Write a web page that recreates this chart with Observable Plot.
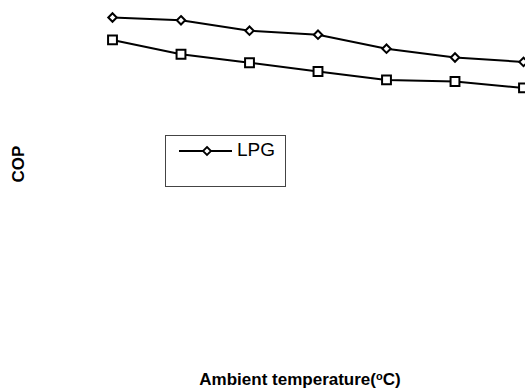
<!DOCTYPE html>
<html>
<head>
<meta charset="utf-8">
<script src="https://cdn.jsdelivr.net/npm/d3@7"></script>
<script src="https://cdn.jsdelivr.net/npm/@observablehq/plot@0.6"></script>
<style>
  html, body { margin: 0; padding: 0; background: #fff; }
  #wrap { position: relative; width: 525px; height: 392px; overflow: hidden; font-family: "Liberation Sans", Arial, sans-serif; }
  #chart svg { display: block; }
  .ylab { position: absolute; left: 19px; top: 164px; transform: translate(-50%, -50%) rotate(-90deg); font-weight: bold; font-size: 17px; white-space: nowrap; }
  .xlab { position: absolute; left: 300px; top: 380px; transform: translate(-50%, -50%); font-weight: bold; font-size: 17px; white-space: nowrap; }
  .xlab sup { font-size: 11px; vertical-align: 5px; }
  .legend { position: absolute; left: 165px; top: 135px; width: 121px; height: 52px; border: 1.5px solid #444; box-sizing: border-box; }
  .legend svg { position: absolute; left: 0; top: 0; }
  .legend span { position: absolute; left: 71px; top: 3px; font-size: 19px; }
</style>
</head>
<body>
<div id="wrap">
  <div id="chart"></div>
  <div class="ylab">COP</div>
  <div class="xlab">Ambient temperature(<sup>o</sup>C)</div>
  <div class="legend">
    <svg width="121" height="52">
      <line x1="13" y1="15" x2="66" y2="15" stroke="#000" stroke-width="2"></line>
      <path d="M41,11 L45,15 L41,19 L37,15 Z" fill="#fff" stroke="#000" stroke-width="1.8"></path>
    </svg>
    <span>LPG</span>
  </div>
</div>
<script>
const temps = [20, 25, 30, 35, 40, 45, 50];
const copLPG = [5.00, 4.93, 4.67, 4.57, 4.22, 4.00, 3.89];
const copOther = [4.44, 4.08, 3.87, 3.65, 3.44, 3.40, 3.24];

const lpg = temps.map((t, i) => ({t, cop: copLPG[i]}));
const other = temps.map((t, i) => ({t, cop: copOther[i]}));

const chart = Plot.plot({
  width: 525,
  height: 392,
  margin: 0,
  x: {domain: [20, 50], range: [112, 523], axis: null},
  y: {domain: [5, 0], range: [17, 217], axis: null},
  marks: [
    Plot.line(lpg, {x: "t", y: "cop", stroke: "#000", strokeWidth: 2}),
    Plot.line(other, {x: "t", y: "cop", stroke: "#000", strokeWidth: 2}),
    Plot.dot(lpg, {x: "t", y: "cop", symbol: "diamond2", r: 3.8, fill: "#fff", stroke: "#000", strokeWidth: 2}),
    Plot.dot(other, {x: "t", y: "cop", symbol: "square", r: 5, fill: "#fff", stroke: "#000", strokeWidth: 2})
  ]
});
document.getElementById("chart").appendChild(chart);
</script>
</body>
</html>
